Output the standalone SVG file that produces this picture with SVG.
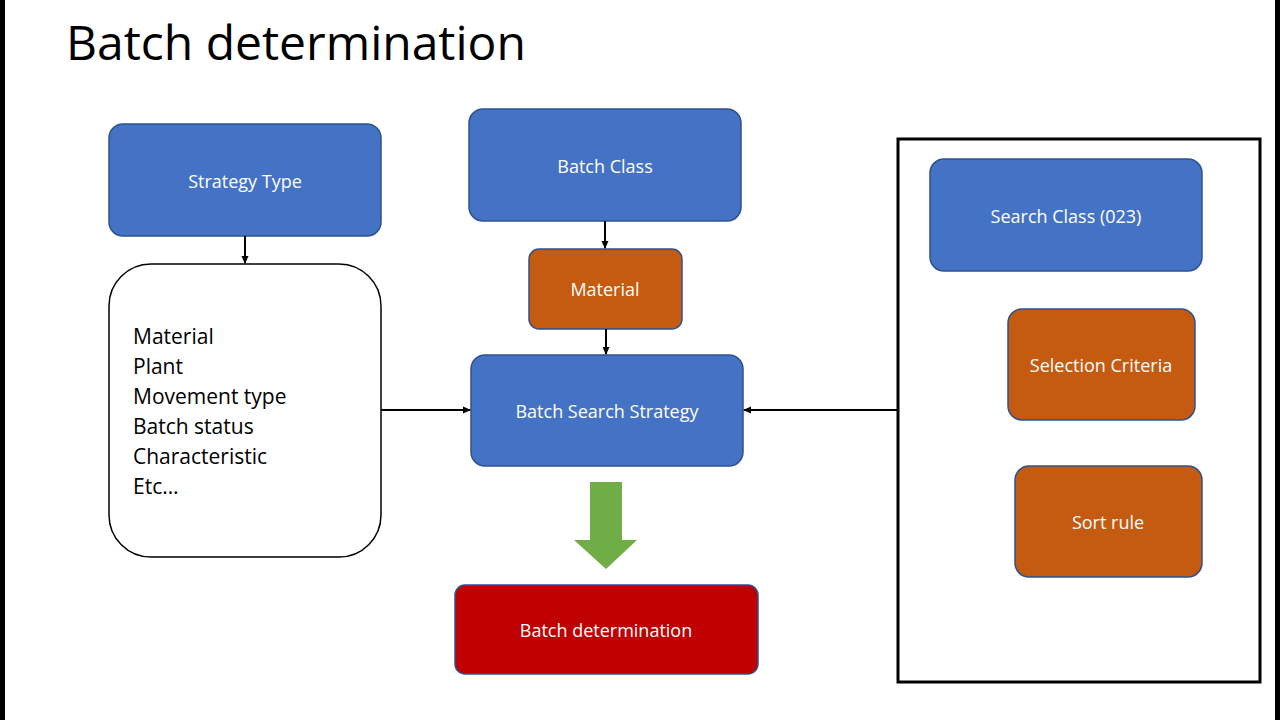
<svg xmlns="http://www.w3.org/2000/svg" width="1280" height="720" viewBox="0 0 1280 720">
<defs>
<marker id="ah" markerWidth="8" markerHeight="8" refX="7" refY="4" orient="auto" markerUnits="userSpaceOnUse"><path d="M0,0.5 L8,4 L0,7.5 Z" fill="#000"/></marker>
<style>
text{font-family:"Open Sans","Noto Sans","Liberation Sans",sans-serif}
.blue{fill:#4472C4;stroke:#2F528F;stroke-width:1.5}
.org{fill:#C55A11;stroke:#2F528F;stroke-width:1.5}
.lbl{fill:#fff;font-size:18px;text-anchor:middle;dominant-baseline:central}
.con{stroke:#000;stroke-width:2;fill:none;marker-end:url(#ah)}
.lst{font-size:21px;fill:#000}
</style>
</defs>
<rect width="1280" height="720" fill="#fff"/>
<rect x="0" y="0" width="5" height="720" fill="#000"/>
<rect x="1275" y="0" width="5" height="720" fill="#000"/>
<text x="66" y="60" font-size="48" fill="#000">Batch determination</text>
<rect x="898" y="139" width="362" height="543" fill="none" stroke="#000" stroke-width="3"/>
<g id="strategy-type"><rect class="blue" x="109" y="124" width="272" height="112" rx="14"/><text class="lbl" x="245" y="181">Strategy Type</text></g>
<g id="criteria-list"><rect x="109" y="264" width="272" height="293" rx="42" fill="#fff" stroke="#000" stroke-width="1.5"/>
<text class="lst"><tspan x="133" y="344">Material</tspan><tspan x="133" y="374">Plant</tspan><tspan x="133" y="404">Movement type</tspan><tspan x="133" y="434">Batch status</tspan><tspan x="133" y="464">Characteristic</tspan><tspan x="133" y="494">Etc…</tspan></text></g>
<g id="batch-class"><rect class="blue" x="469" y="109" width="272" height="112" rx="14"/><text class="lbl" x="605" y="166">Batch Class</text></g>
<g id="material"><rect class="org" x="529" y="249" width="153" height="80" rx="10"/><text class="lbl" x="605" y="289">Material</text></g>
<g id="batch-search-strategy"><rect class="blue" x="471" y="355" width="272" height="111" rx="14"/><text class="lbl" x="607" y="411">Batch Search Strategy</text></g>
<g id="green-arrow"><path d="M590,482 H622 V540 H637 L606,569 L574,540 H590 Z" fill="#70AD47"/></g>
<g id="batch-determination"><rect x="455" y="585" width="303" height="89" rx="10" fill="#C00000" stroke="#2F528F" stroke-width="1.5"/><text class="lbl" x="606" y="630" font-size="20">Batch determination</text></g>
<g id="search-class"><rect class="blue" x="930" y="159" width="272" height="112" rx="14"/><text class="lbl" x="1066" y="216">Search Class (023)</text></g>
<g id="selection-criteria"><rect class="org" x="1008" y="309" width="187" height="111" rx="14"/><text class="lbl" x="1101" y="365">Selection Criteria</text></g>
<g id="sort-rule"><rect class="org" x="1015" y="466" width="187" height="111" rx="14"/><text class="lbl" x="1108" y="522">Sort rule</text></g>
<g id="connectors">
<line class="con" x1="245" y1="236" x2="245" y2="263"/>
<line class="con" x1="605" y1="221" x2="605" y2="248"/>
<line class="con" x1="606" y1="329" x2="606" y2="354"/>
<line class="con" x1="381" y1="410" x2="470" y2="410"/>
<line class="con" x1="898" y1="410" x2="744" y2="410"/>
</g>
</svg>
